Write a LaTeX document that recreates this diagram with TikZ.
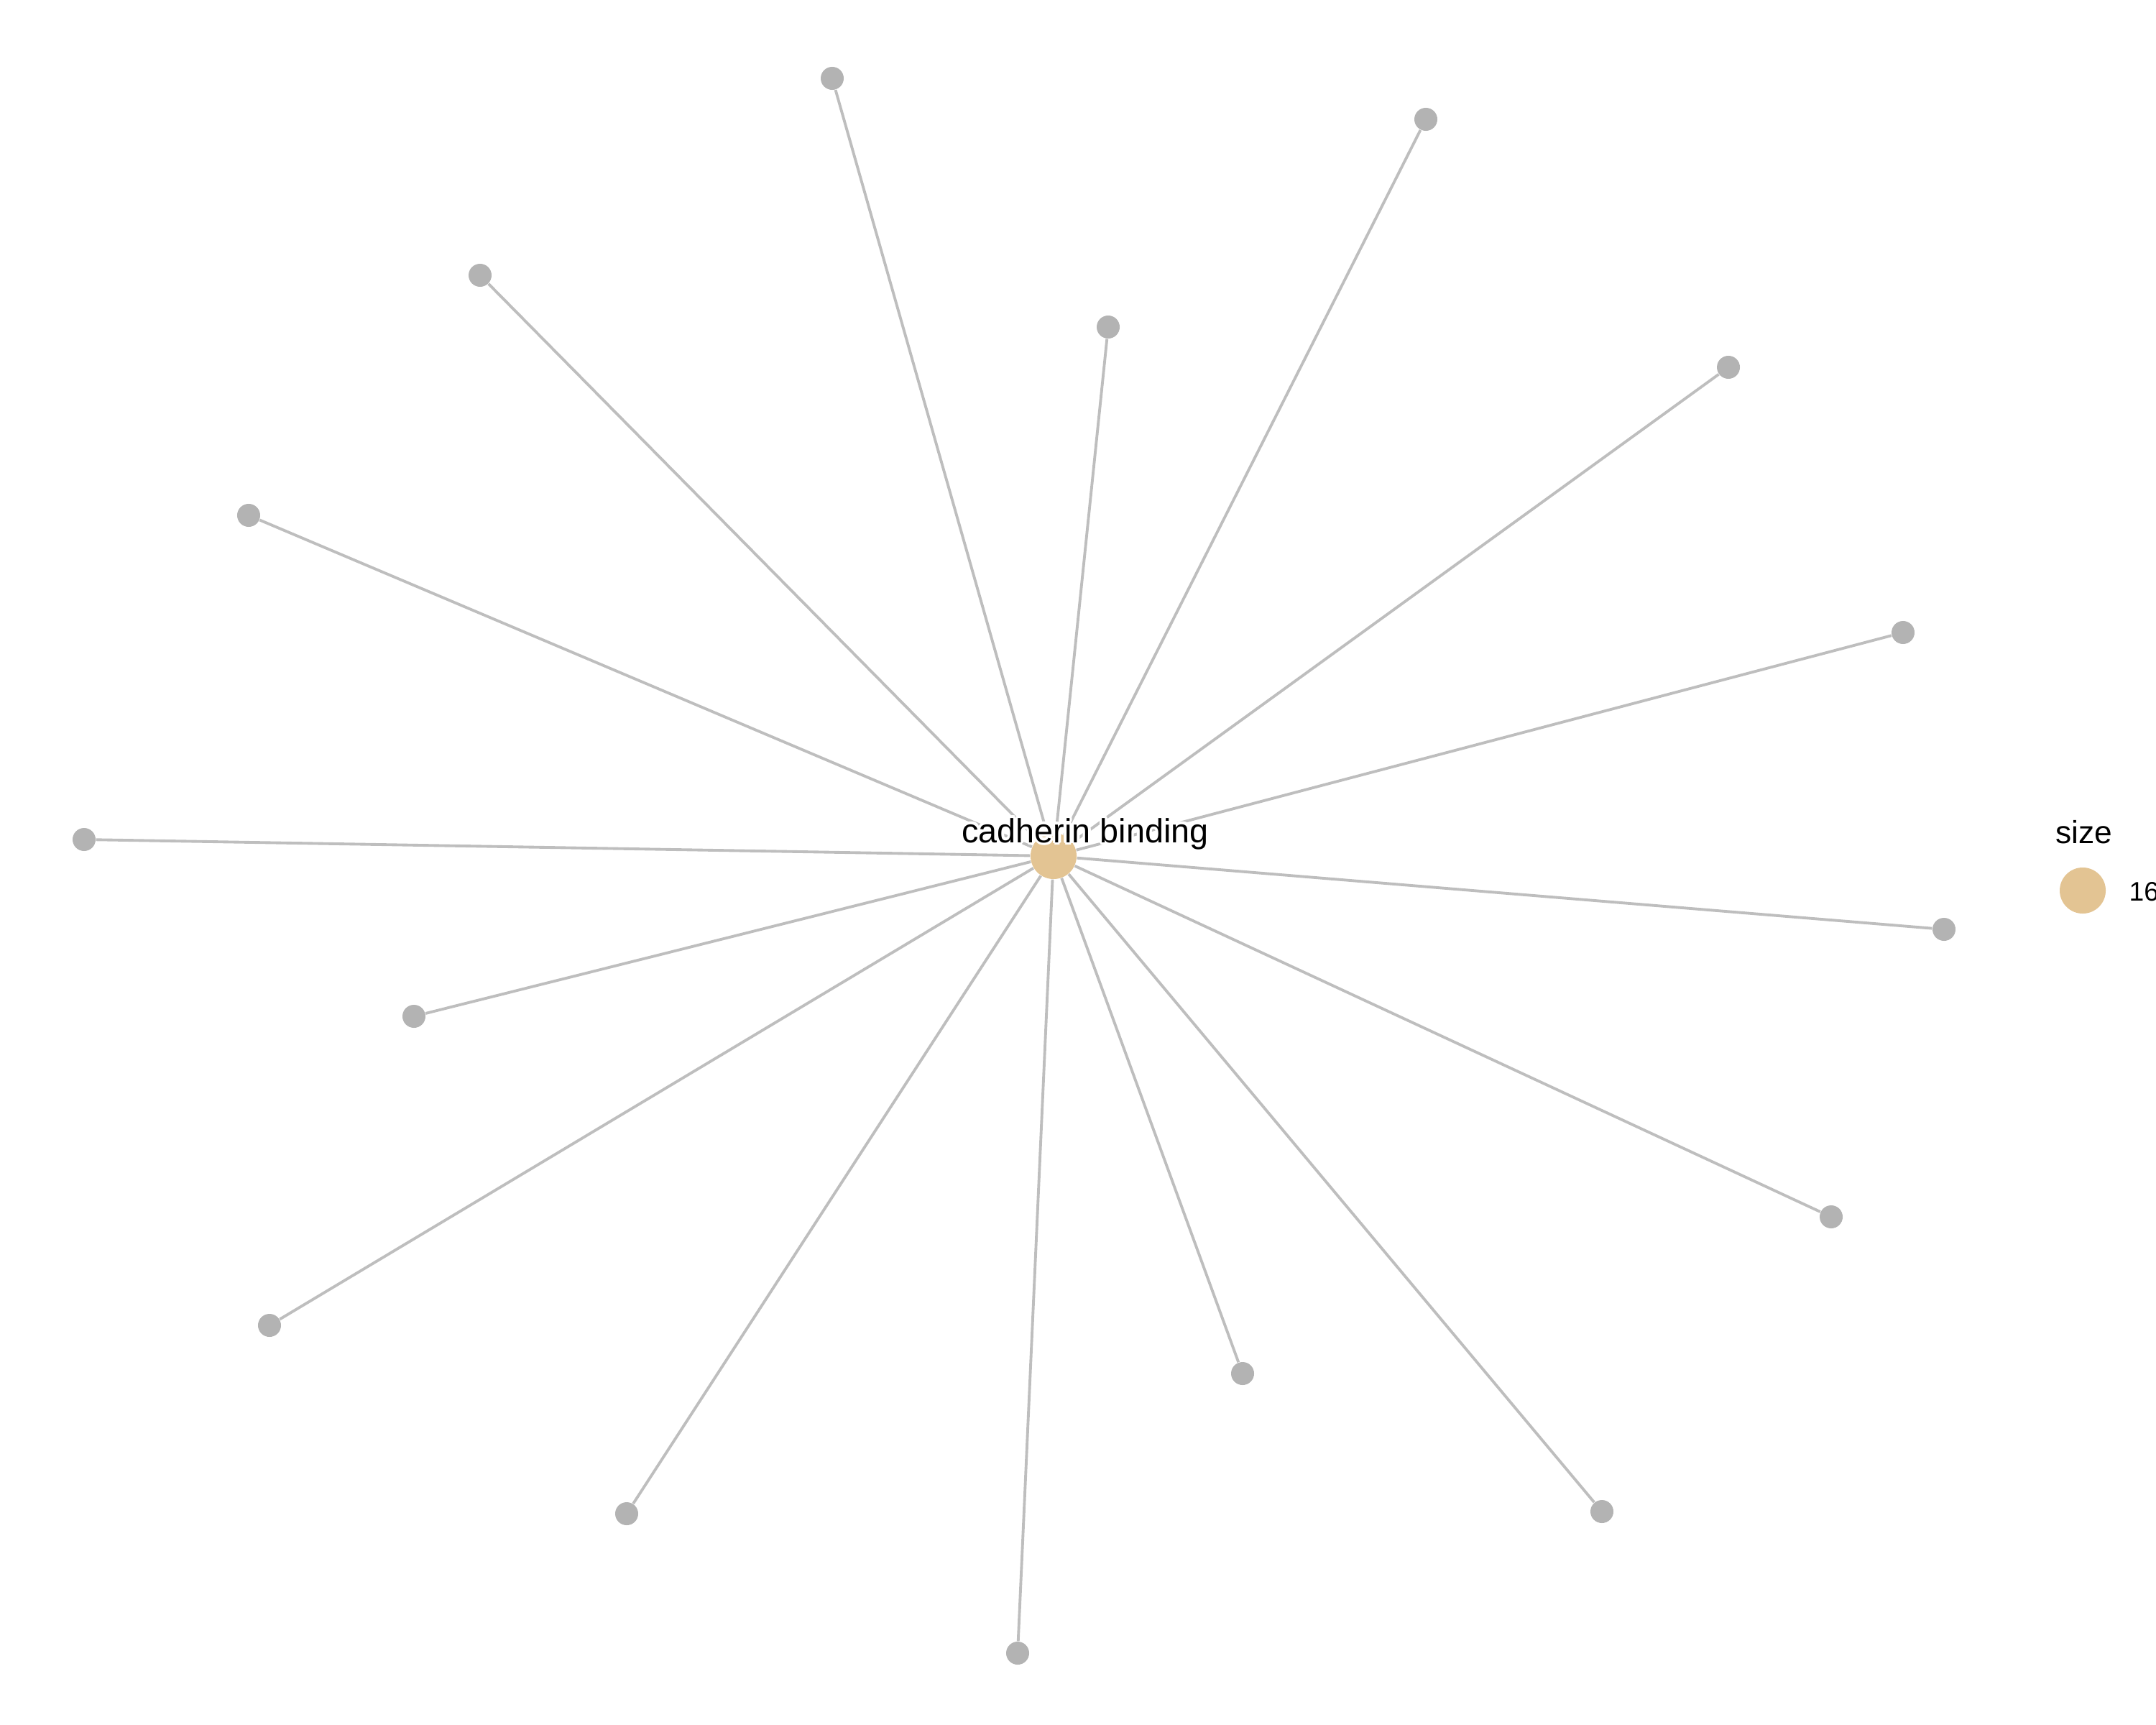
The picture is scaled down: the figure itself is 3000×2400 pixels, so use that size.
\documentclass[tikz,border=0pt]{standalone}
\usepackage{fontspec}
\setmainfont{Liberation Sans}
\usetikzlibrary{positioning}
\definecolor{edgegray}{HTML}{BEBEBE}
\definecolor{leafgray}{HTML}{B3B3B3}
\definecolor{hubtan}{HTML}{E3C493}
\tikzset{
    leaf/.style={circle, fill=leafgray, inner sep=0pt, minimum size=0.32cm},
    hub/.style={circle, fill=hubtan, inner sep=0pt, minimum size=0.64cm},
    link/.style={draw=edgegray, line width=1.1pt},
    hublabel/.style={font=\fontsize{13.3}{16}\selectfont, anchor=base, inner sep=0pt},
}

\begin{document}
\begin{tikzpicture}[x=0.01cm, y=-0.01cm]
    \clip (0,0) rectangle (3000,2400);

    \node[hub] (hub) at (1466,1191) {};
    \foreach \i/\x/\y in {1/1158/109, 2/1984/166, 3/668/383, 4/1542/455,
                          5/2405/511, 6/346/717, 7/2648/880, 8/117/1168,
                          9/2705/1293, 10/576/1414, 11/2548/1693, 12/375/1844,
                          13/1729/1911, 14/872/2106, 15/2229/2103, 16/1416/2300} {
      \node[leaf] (g\i) at (\x,\y) {};
      \draw[link] (hub) -- (g\i);
    }

    % label with white halo
    \foreach \a in {0,30,...,330}
      \node[hublabel, text=white] at ([shift={(\a:0.035cm)}]1510,1172) {cadherin binding};
    \node[hublabel] (name) at (1510,1172) {cadherin binding};

    % legend
    \node[font=\fontsize{12.6}{14}\selectfont, anchor=base west, inner sep=0pt] (sizetitle) at (2860,1173) {size};
    \node[hub] (sizekey) at (2898,1239) {};
    \node[font=\fontsize{10.6}{12}\selectfont, anchor=base west, inner sep=0pt] (sizeval) at (2962,1253) {16};
\end{tikzpicture}
\end{document}
